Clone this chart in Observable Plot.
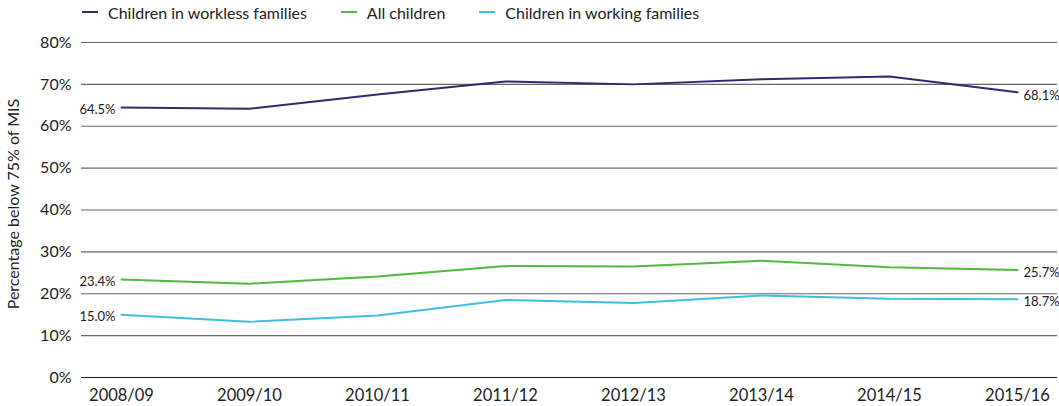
<!DOCTYPE html>
<html><head><meta charset="utf-8">
<script src="https://cdn.jsdelivr.net/npm/d3@7"></script>
<script src="https://cdn.jsdelivr.net/npm/@observablehq/plot@0.6"></script>
<style>
body{margin:0;background:#fff;font-family:Lato,"Open Sans",sans-serif;}
#legend{height:24px;display:flex;align-items:center;font-size:16px;color:#222;padding-left:82px;}
#legend span.item{display:inline-flex;align-items:center;margin-right:34px;}
#legend span.sw{display:inline-block;width:16px;height:2.5px;margin-right:10px;}
</style></head>
<body>
<div id="legend"></div>
<div id="chart"></div>
<script>
const years = ["2008/09","2009/10","2010/11","2011/12","2012/13","2013/14","2014/15","2015/16"];
const seriesNames = ["Children in workless families","All children","Children in working families"];
const seriesColors = ["#3b2470","#4fbc3b","#3fbfe0"];
const workless = [64.5,64.2,67.6,70.7,70.0,71.2,71.9,68.1];
const allChildren = [23.4,22.4,24.1,26.6,26.5,27.9,26.3,25.7];
const working = [15.0,13.3,14.8,18.5,17.8,19.6,18.8,18.7];
const yTicks = [0,10,20,30,40,50,60,70,80];

const valuesBySeries = [workless, allChildren, working];
const data = [];
seriesNames.forEach((s,i)=>years.forEach((y,j)=>data.push({series:s,year:y,value:valuesBySeries[i][j],idx:j})));
const ends = data.filter(d=>d.idx===0||d.idx===years.length-1);

const leg = document.getElementById("legend");
seriesNames.forEach((s,i)=>{
  const it=document.createElement("span");it.className="item";
  const sw=document.createElement("span");sw.className="sw";sw.style.background=seriesColors[i];
  it.appendChild(sw);it.appendChild(document.createTextNode(s));leg.appendChild(it);
});

const chart = Plot.plot({
  width:1059, height:382,
  marginTop:18, marginBottom:29, marginLeft:81, marginRight:2,
  style:{fontFamily:"Lato, 'Open Sans', sans-serif", fontSize:"16px", color:"#222"},
  x:{type:"point", domain:years, padding:0.305, label:null},
  y:{domain:[0,80], label:null},
  color:{domain:seriesNames, range:seriesColors},
  marks:[
    Plot.ruleY(yTicks.filter(d=>d>0),{stroke:"#666",strokeWidth:1.2}),
    Plot.ruleY([0],{stroke:"#111",strokeWidth:1.2}),
    Plot.axisY({ticks:yTicks, tickSize:0, tickPadding:10, tickFormat:d=>d+"%", fontSize:16, label:null}),
    Plot.axisX({tickSize:0, tickPadding:12, fontSize:16.5, label:null}),
    Plot.text(["Percentage below 75% of MIS"],{frameAnchor:"left", textAnchor:"middle", rotate:-90, dx:-68, dy:-6, fontSize:16, fill:"#222"}),
    Plot.line(data,{x:"year",y:"value",z:"series",stroke:"series",strokeWidth:2}),
    Plot.text(ends.filter(d=>d.idx===0),{x:"year",y:"value",text:d=>d.value.toFixed(1)+"%",textAnchor:"end",dx:-6,dy:2,fontSize:13,fill:"#222"}),
    Plot.text(ends.filter(d=>d.idx>0),{x:"year",y:"value",text:d=>d.value.toFixed(1)+"%",textAnchor:"start",dx:6,dy:3,fontSize:13,fill:"#222"})
  ]
});
document.getElementById("chart").appendChild(chart);
</script>
</body></html>
